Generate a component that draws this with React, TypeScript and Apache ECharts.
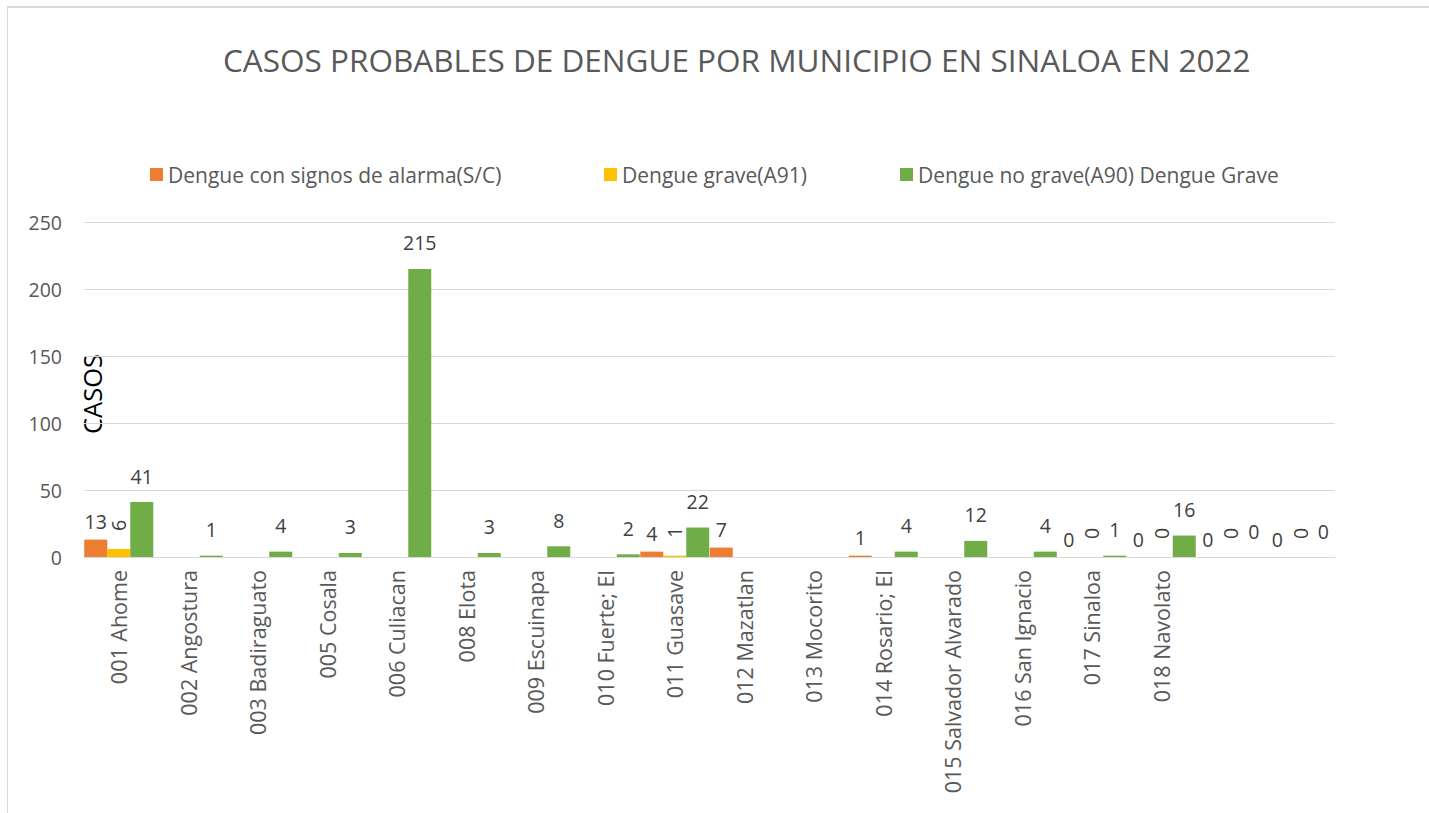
import React, { useEffect, useRef } from "react";
import * as echarts from "echarts";

const categories = [
  "001 Ahome", "002 Angostura", "003 Badiraguato", "005 Cosala", "006 Culiacan",
  "008 Elota", "009 Escuinapa", "010 Fuerte; El", "011 Guasave", "012 Mazatlan",
  "013 Mocorito", "014 Rosario; El", "015 Salvador Alvarado", "016 San Ignacio",
  "017 Sinaloa", "018 Navolato", "", " ",
];
const seriesNames = [
  "Dengue con signos de alarma(S/C)",
  "Dengue grave(A91)",
  "Dengue no grave(A90) Dengue Grave",
];
const alarma = [13, null, null, null, null, null, null, null, 4, 7, null, 1, null, null, 0, 0, 0, 0];
const grave = [6, null, null, null, null, null, null, null, 1, null, null, null, null, null, 0, 0, 0, 0];
const noGrave = [41, 1, 4, 3, 215, 3, 8, 2, 22, null, null, 4, 12, 4, 1, 16, 0, 0];
const colors = ["#ed7d31", "#ffc000", "#70ad47"];
const yTicks = { min: 0, max: 250, interval: 50 };

const FONT = "'Open Sans', 'Noto Sans', sans-serif";

export default function App() {
  const ref = useRef<HTMLDivElement>(null);
  useEffect(() => {
    if (!ref.current) return;
    const chart = echarts.init(ref.current, undefined, { renderer: "svg" });
    const labelBase = { show: true, position: "top", color: "#404040", fontSize: 19.5, fontFamily: FONT };
    chart.setOption({
      animation: false,
      textStyle: { fontFamily: FONT },
      title: {
        text: "CASOS PROBABLES DE DENGUE POR MUNICIPIO EN SINALOA EN 2022",
        left: 210,
        top: 30,
        textStyle: { fontSize: 31.5, fontWeight: "normal", color: "#595959", fontFamily: FONT },
      },
      legend: seriesNames.map((n, i) => ({
        data: [n],
        left: [137, 591, 887][i],
        top: 151,
        itemWidth: 13,
        itemHeight: 13,
        itemGap: 6,
        icon: "rect",
        textStyle: { fontSize: 21, color: "#595959", fontFamily: FONT },
      })),
      grid: { left: 76, right: 94, top: 214, bottom: 256, containLabel: false },
      xAxis: {
        type: "category",
        data: categories,
        axisLine: { show: true, lineStyle: { color: "#d9d9d9", width: 1 } },
        axisTick: { show: false },
        axisLabel: { rotate: 90, fontSize: 21.5, color: "#595959", margin: 13, interval: 0, fontFamily: FONT },
      },
      yAxis: {
        type: "value",
        ...yTicks,
        axisLine: { show: false },
        axisTick: { show: false },
        splitLine: { lineStyle: { color: "#d9d9d9", width: 1 } },
        axisLabel: { fontSize: 19.5, color: "#595959", margin: 22, fontFamily: FONT },
      },
      graphic: [
        {
          type: "text",
          x: 84,
          y: 386,
          rotation: Math.PI / 2,
          style: {
            text: "CASOS",
            fontSize: 25.5,
            fill: "#000000",
            fontFamily: FONT,
            align: "center",
            verticalAlign: "middle",
          },
        },
      ],
      series: [
        {
          name: seriesNames[0],
          type: "bar",
          data: alarma,
          barWidth: 23,
          barGap: "0%",
          itemStyle: { color: colors[0] },
          label: { ...labelBase, distance: 8 },
        },
        {
          name: seriesNames[1],
          type: "bar",
          data: grave,
          barWidth: 23,
          barGap: "0%",
          itemStyle: { color: colors[1] },
          label: { ...labelBase, distance: 18, rotate: 90, align: "left", verticalAlign: "middle" },
        },
        {
          name: seriesNames[2],
          type: "bar",
          data: noGrave,
          barWidth: 23,
          barGap: "0%",
          itemStyle: { color: colors[2] },
          label: { ...labelBase, distance: 16 },
        },
      ],
    });
    return () => chart.dispose();
  }, []);
  return (
    <div
      style={{
        position: "absolute",
        left: 7,
        top: 6,
        width: 1422,
        height: 807,
        boxSizing: "border-box",
        borderTop: "2px solid #d9d9d9",
        borderLeft: "1px solid #d9d9d9",
      }}
    >
      <div ref={ref} style={{ position: "absolute", left: 0, top: 0, width: 1421, height: 805 }} />
    </div>
  );
}
